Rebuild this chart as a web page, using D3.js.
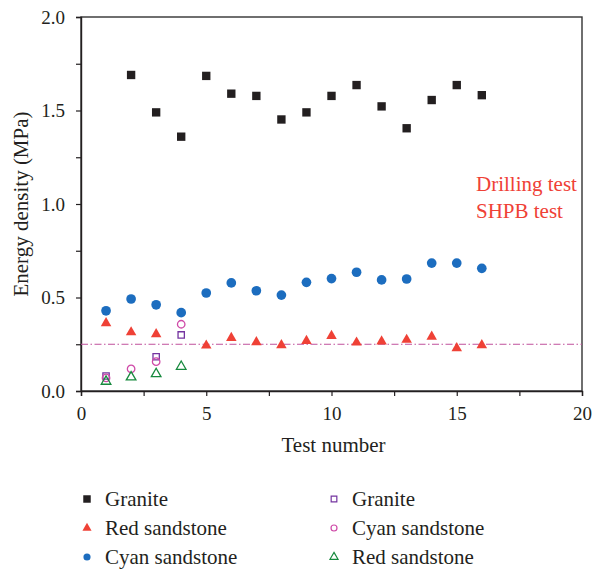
<!DOCTYPE html>
<html>
<head>
<meta charset="utf-8">
<script src="https://cdn.jsdelivr.net/npm/d3@7"></script>
<style>
  body { margin: 0; background: #fff; }
  svg text { font-family: "Liberation Serif", "DejaVu Serif", serif; fill: #231f20; }
</style>
</head>
<body>
<div id="chart"></div>
<script>
// Drilling test (filled markers), tests 1-16
const drillTests = d3.range(1, 17);
const graniteDrill = [null, 1.69, 1.49, 1.36, 1.685, 1.59, 1.578, 1.452, 1.49, 1.578, 1.636, 1.522, 1.405, 1.556, 1.636, 1.582];
const redDrill = [0.371, 0.322, 0.312, null, 0.251, 0.292, 0.269, 0.253, 0.276, 0.303, 0.267, 0.273, 0.282, 0.299, 0.237, 0.253];
const cyanDrill = [0.429, 0.492, 0.461, 0.419, 0.524, 0.578, 0.536, 0.513, 0.581, 0.601, 0.635, 0.594, 0.599, 0.684, 0.684, 0.656];

// SHPB test (open markers), tests 1-4
const shpbTests = [1, 2, 3, 4];
const graniteShpb = [0.08, null, 0.183, 0.30];
const cyanShpb = [0.07, 0.118, 0.157, 0.357];
const redShpb = [0.059, 0.082, 0.10, 0.139];

const refLine = 0.25;

const xTicks = [0, 5, 10, 15, 20];
const yTicks = [0, 0.5, 1.0, 1.5, 2.0];

const width = 593, height = 569;
const margin = { left: 81, right: 11, top: 17, bottom: 178 };

const svg = d3.select("#chart").append("svg")
    .attr("width", width)
    .attr("height", height)
    .attr("font-family", '"Liberation Serif", serif');

const x = d3.scaleLinear().domain([0, 20]).range([margin.left, width - margin.right]);
const y = d3.scaleLinear().domain([0, 2]).range([height - margin.bottom, margin.top]);

// frame
svg.append("rect")
    .attr("x", x(0)).attr("y", y(2))
    .attr("width", x(20) - x(0)).attr("height", y(0) - y(2))
    .attr("fill", "none").attr("stroke", "#333").attr("stroke-width", 1.4);

// axes
const xAxis = svg.append("g")
    .attr("transform", `translate(0,${y(0)})`)
    .call(d3.axisBottom(x).tickValues(d3.range(0, 20.1, 2.5)).tickSize(5)
        .tickFormat(d => xTicks.includes(d) ? d : ""));
const yAxis = svg.append("g")
    .attr("transform", `translate(${x(0)},0)`)
    .call(d3.axisLeft(y).tickValues(d3.range(0, 2.01, 0.25)).tickSize(5)
        .tickFormat(d => yTicks.some(t => Math.abs(t - d) < 1e-9) ? d.toFixed(1) : ""));

[xAxis, yAxis].forEach(g => {
    g.attr("font-family", '"Liberation Serif", serif');
    g.select(".domain").attr("stroke", "#231f20").attr("stroke-width", 1.4);
    g.selectAll(".tick line").attr("stroke", "#231f20").attr("stroke-width", 1.2);
    g.selectAll(".tick text").attr("font-size", 19).attr("fill", "#231f20");
});
xAxis.selectAll(".tick text").attr("y", 29).attr("dy", null);
yAxis.selectAll(".tick text").attr("x", -16).attr("dy", "0.33em");

// axis titles
svg.append("text")
    .attr("x", (x(0) + x(20)) / 2 + 2).attr("y", 452)
    .attr("text-anchor", "middle").attr("font-size", 21)
    .text("Test number");
svg.append("text")
    .attr("transform", `translate(28,${(y(0) + y(2)) / 2}) rotate(-90)`)
    .attr("text-anchor", "middle").attr("font-size", 21)
    .text("Energy density (MPa)");

// reference line
svg.append("line")
    .attr("x1", x(0)).attr("x2", x(20))
    .attr("y1", y(refLine)).attr("y2", y(refLine))
    .attr("stroke", "#c0509c").attr("stroke-width", 1)
    .attr("stroke-dasharray", "7,2.5,1.5,2.5");

// marker shapes
const sq = d3.symbol().type(d3.symbolSquare);
const tri = d3.symbol().type(d3.symbolTriangle);
const circ = d3.symbol().type(d3.symbolCircle);

const series = [
    { xs: drillTests, ys: graniteDrill, sym: sq, size: 70, lsize: 56, fill: "#231f20", stroke: "none", label: "Granite" },
    { xs: drillTests, ys: redDrill, sym: tri, size: 48, lsize: 36, fill: "#ef4136", stroke: "none", label: "Red sandstone" },
    { xs: drillTests, ys: cyanDrill, sym: circ, size: 74, lsize: 40, fill: "#1c6dbf", stroke: "none", label: "Cyan sandstone" },
    { xs: shpbTests, ys: graniteShpb, sym: sq, size: 40, lsize: 32, fill: "none", stroke: "#7434a0", label: "Granite" },
    { xs: shpbTests, ys: cyanShpb, sym: circ, size: 44, lsize: 28, fill: "none", stroke: "#cf4aa8", label: "Cyan sandstone" },
    { xs: shpbTests, ys: redShpb, sym: tri, size: 40, lsize: 28, fill: "none", stroke: "#16893d", label: "Red sandstone" }
];

const triOffset = 1.5;

series.forEach(s => {
    const pts = s.xs.map((t, i) => ({ t, v: s.ys[i] })).filter(d => d.v != null);
    svg.append("g").selectAll("path")
        .data(pts)
        .join("path")
        .attr("d", s.sym.size(s.size))
        .attr("transform", d => `translate(${x(d.t)},${y(d.v) + (s.sym === tri ? triOffset : 0)})`)
        .attr("fill", s.fill)
        .attr("stroke", s.stroke)
        .attr("stroke-width", 1.3);
});

// annotations
svg.append("text").attr("x", 476).attr("y", 191).attr("font-size", 21)
    .style("fill", "#ef4136").text("Drilling test");
svg.append("text").attr("x", 476).attr("y", 218).attr("font-size", 21)
    .style("fill", "#ef4136").text("SHPB test");

// legend
const legend = svg.append("g");
series.forEach((s, i) => {
    const col = Math.floor(i / 3), row = i % 3;
    const lx = col === 0 ? 87 : 334;
    const ly = 499 + row * 29;
    legend.append("path")
        .attr("d", s.sym.size(s.lsize))
        .attr("transform", `translate(${lx},${ly})`)
        .attr("fill", s.fill)
        .attr("stroke", s.stroke)
        .attr("stroke-width", 1.2);
    legend.append("text")
        .attr("x", lx + 18).attr("y", ly + 7)
        .attr("font-size", 21)
        .text(s.label);
});
</script>
</body>
</html>
